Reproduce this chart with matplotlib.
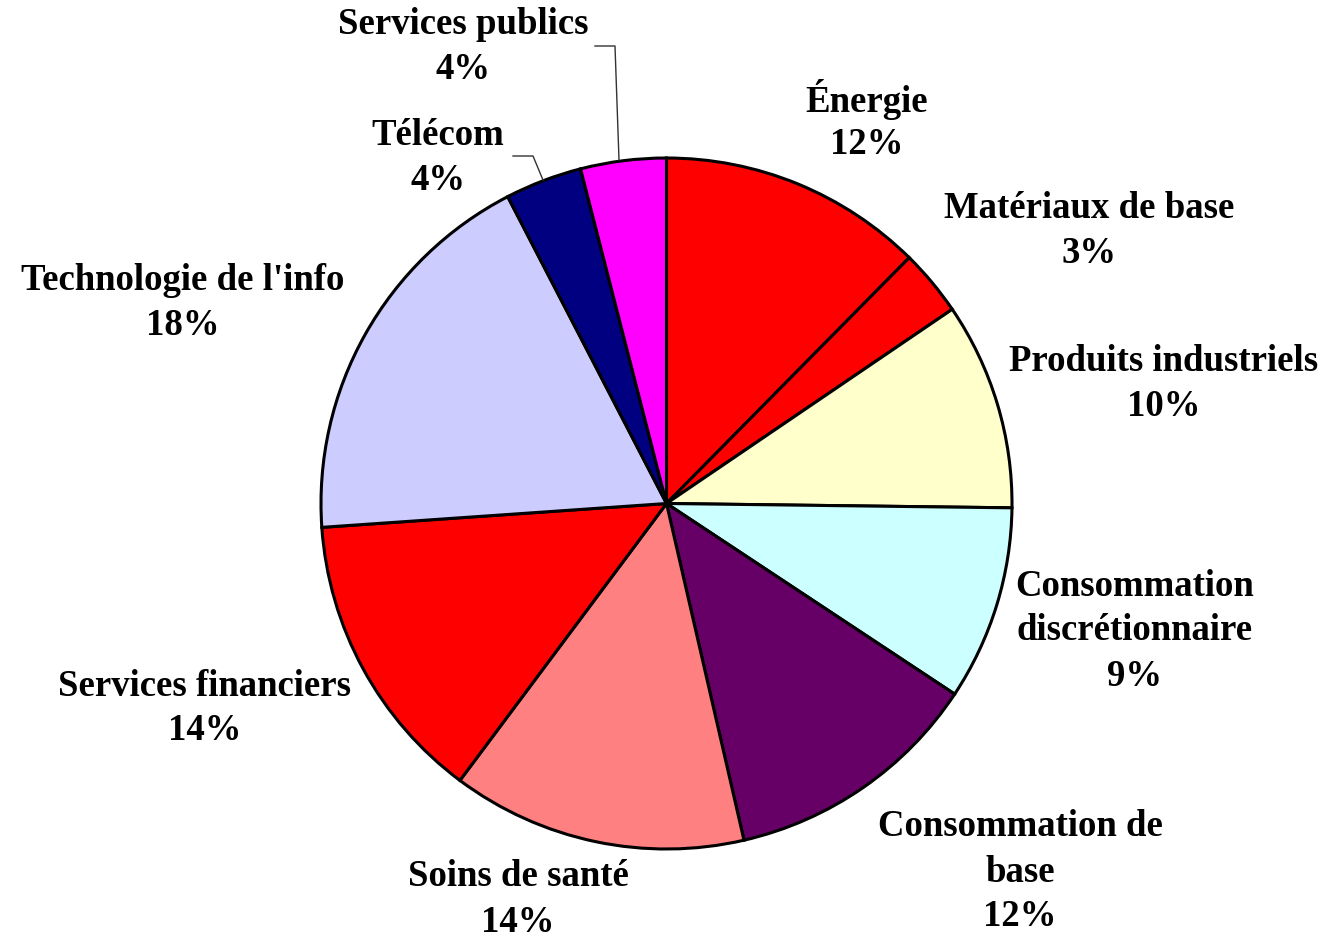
import matplotlib
matplotlib.use("Agg")
import matplotlib.pyplot as plt

categories = ["Énergie", "Matériaux de base", "Produits industriels",
              "Consommation\ndiscrétionnaire", "Consommation de\nbase",
              "Soins de santé", "Services financiers", "Technologie de l'info",
              "Télécom", "Services publics"]
values = [12.4, 3.1, 9.7, 9.1, 12.1, 13.8, 13.7, 18.5, 3.6, 4.0]
pct_labels = ["12%", "3%", "10%", "9%", "12%", "14%", "14%", "18%", "4%", "4%"]
colors = ["#FF0000", "#FF0000", "#FFFFCC", "#CCFFFF", "#660066",
          "#FF8080", "#FF0000", "#CCCCFF", "#000080", "#FF00FF"]

W, H = 1325, 941
fig = plt.figure(figsize=(W / 100, H / 100), dpi=100)
ax = fig.add_axes([0, 0, 1, 1])

def py(y):
    return H - y

cx, cy, r = 666.5, py(503.5), 345.5
ax.pie(values, colors=colors, startangle=90, counterclock=False,
       center=(cx, cy), radius=r, frame=True,
       wedgeprops=dict(edgecolor="black", linewidth=2.2))
ax.set_xlim(0, W)
ax.set_ylim(0, H)
ax.set_aspect("equal")
ax.axis("off")

label_pos = [(867, 99), (1089, 208), (1164, 361), (1135, 586), (1020, 827),
             (518, 877), (205, 686), (183, 280), (438, 135), (463, 24)]
font = dict(family=["Liberation Serif", "DejaVu Serif"], fontweight="bold",
            fontsize=26.5, color="black")
for cat, pct, (x, y) in zip(categories, pct_labels, label_pos):
    lines = cat.split("\n") + [pct]
    for i, line in enumerate(lines):
        ax.text(x, py(y + 45 * i), line, ha="center", va="center", **font)

ax.plot([595, 615, 619], [py(46), py(46), py(160)], color="#333333", lw=1)
ax.plot([513, 533, 543], [py(156), py(156), py(180)], color="#333333", lw=1)

fig.savefig("out.png", dpi=100)
